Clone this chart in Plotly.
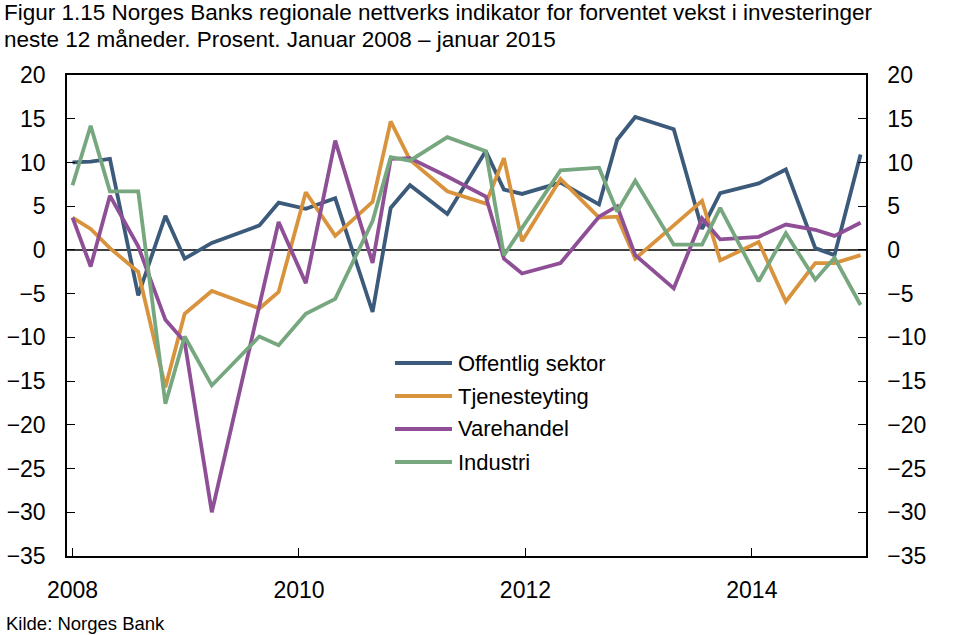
import plotly.graph_objects as go

dates = [2008.00, 2008.16, 2008.33, 2008.58, 2008.82, 2008.99, 2009.23, 2009.65, 2009.82,
         2010.06, 2010.32, 2010.65, 2010.81, 2010.98, 2011.31, 2011.65, 2011.81, 2011.97,
         2012.31, 2012.65, 2012.81, 2012.97, 2013.31, 2013.56, 2013.72, 2014.06, 2014.30,
         2014.56, 2014.73, 2014.96]

offentlig = [10.0, 10.1, 10.4, -5.2, 3.9, -1.0, 0.8, 2.8, 5.4,
             4.7, 5.9, -7.1, 4.8, 7.4, 4.1, 11.3, 6.9, 6.4,
             7.7, 5.2, 12.6, 15.2, 13.8, 2.4, 6.5, 7.6, 9.2,
             0.2, -0.6, 10.9]

tjenesteyting = [3.7, 2.4, 0.2, -2.5, -15.7, -7.3, -4.7, -6.7, -4.8,
                 6.6, 1.6, 5.5, 14.7, 10.3, 6.7, 5.3, 10.5, 1.0,
                 8.1, 3.7, 3.8, -1.0, 2.8, 5.6, -1.2, 0.9, -5.9,
                 -1.5, -1.5, -0.6]

varehandel = [3.7, -1.9, 6.2, 0.4, -8.0, -10.5, -30.0, -6.7, 3.2,
              -3.8, 12.5, -1.5, 10.4, 10.5, 8.4, 6.1, -1.0, -2.7,
              -1.5, 3.8, 5.0, -0.6, -4.4, 3.6, 1.2, 1.5, 2.9,
              2.3, 1.6, 3.1]

industri = [7.4, 14.2, 6.7, 6.7, -17.6, -9.9, -15.5, -9.9, -10.9,
            -7.3, -5.6, 3.3, 10.6, 10.2, 12.9, 11.3, -0.6, 2.5,
            9.1, 9.4, 4.4, 7.9, 0.6, 0.6, 4.8, -3.6, 1.9,
            -3.4, -0.9, -6.3]

series_names = ["Offentlig sektor", "Tjenesteyting", "Varehandel", "Industri"]
series_values = [offentlig, tjenesteyting, varehandel, industri]
colors = ["#3c5a7a", "#d9933c", "#8e4f96", "#77a77f"]

year_ticks = [2008, 2010, 2012, 2014]
y_ticks = [20, 15, 10, 5, 0, -5, -10, -15, -20, -25, -30, -35]

FONT = "Arial, Liberation Sans, Helvetica, sans-serif"

fig = go.Figure()
for name, vals, col in zip(series_names, series_values, colors):
    fig.add_trace(go.Scatter(x=dates, y=vals, mode="lines", name=name,
                             line=dict(color=col, width=3.8), showlegend=False))
# invisible trace to anchor right axis
fig.add_trace(go.Scatter(x=dates, y=offentlig, yaxis="y2", mode="lines",
                         line=dict(width=0), opacity=0, showlegend=False, hoverinfo="skip"))

L, R, T, B = 67, 94, 75, 79
W, H = 960, 635
pw, ph = W - L - R, H - T - B

def px2x(px):
    return (px - L) / pw

def py2y(py):
    return (H - B - py) / ph

yaxis_common = dict(range=[-35, 20], tickvals=y_ticks, ticks="inside", ticklen=8,
                    tickwidth=1.3, tickcolor="black", showline=True, linecolor="black",
                    linewidth=1.5, showgrid=False, zeroline=False, automargin=False,
                    tickfont=dict(family=FONT, size=23, color="black"),
                    ticklabelstandoff=15)

fig.update_layout(
    width=W, height=H,
    margin=dict(l=L, r=R, t=T, b=B, autoexpand=False),
    paper_bgcolor="white", plot_bgcolor="white",
    xaxis=dict(range=[2007.951, 2015.008], tickvals=year_ticks,
               ticktext=[str(y) for y in year_ticks],
               ticks="inside", ticklen=8, tickwidth=1.3, tickcolor="black",
               showline=True, linecolor="black", linewidth=1.5, mirror=True,
               showgrid=False, zeroline=False, automargin=False,
               tickfont=dict(family=FONT, size=23, color="black"),
               ticklabelstandoff=13),
    yaxis=dict(**yaxis_common, side="left"),
    yaxis2=dict(**yaxis_common, side="right", overlaying="y"),
    showlegend=False,
)

# zero line
fig.add_hline(y=0, line=dict(color="black", width=1.5), layer="below")

# title (two lines)
fig.add_annotation(text="Figur 1.15 Norges Banks regionale nettverks indikator for forventet vekst i investeringer",
                   xref="paper", yref="paper", x=px2x(3), y=py2y(12.5), xanchor="left", yanchor="middle",
                   showarrow=False, borderpad=0, font=dict(family=FONT, size=22.5, color="black"))
fig.add_annotation(text="neste 12 måneder. Prosent. Januar 2008 – januar 2015",
                   xref="paper", yref="paper", x=px2x(3), y=py2y(39), xanchor="left", yanchor="middle",
                   showarrow=False, borderpad=0, font=dict(family=FONT, size=22.5, color="black"))
# source
fig.add_annotation(text="Kilde: Norges Bank", xref="paper", yref="paper", x=px2x(4), y=py2y(623),
                   xanchor="left", yanchor="middle", showarrow=False,
                   font=dict(family=FONT, size=18.5, color="black"))

# manual legend
leg_y = [363, 396, 429, 462]
for name, col, yy in zip(series_names, colors, leg_y):
    fig.add_shape(type="line", xref="paper", yref="paper", x0=px2x(395), x1=px2x(452),
                  y0=py2y(yy), y1=py2y(yy), line=dict(color=col, width=3.8))
    fig.add_annotation(text=name, xref="paper", yref="paper", x=px2x(456), y=py2y(yy),
                       xanchor="left", yanchor="middle", showarrow=False,
                       font=dict(family=FONT, size=22, color="black"))

fig.write_html("out.html")
